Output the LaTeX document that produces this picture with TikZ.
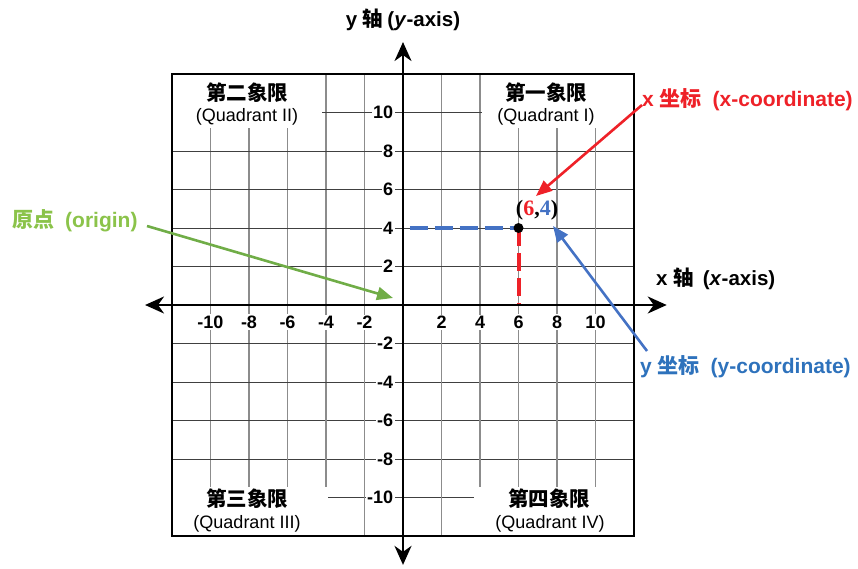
\documentclass[tikz,border=0pt]{standalone}
\usepackage{fontspec}
\setmainfont{Liberation Sans}
\newfontfamily\cjk{Noto Sans CJK SC}
\newfontfamily\timesb{Liberation Serif}
\usetikzlibrary{arrows.meta}
\definecolor{cred}{HTML}{EE2128}
\definecolor{cblue}{HTML}{4472C4}
\definecolor{cbluetxt}{HTML}{2E72BC}
\definecolor{cgreen}{HTML}{70AD47}
\definecolor{cgreentxt}{HTML}{8BC34A}
\tikzset{
  vgrid/.style={draw=black!45, line width=1.1pt},
  hgrid/.style={draw=black!75, line width=0.9pt},
  border/.style={draw=black, line width=1.6pt},
  axisline/.style={draw=black, line width=2.2pt, {Stealth[length=19pt,width=17pt,inset=6pt]}-{Stealth[length=19pt,width=17pt,inset=6pt]}},
  tick/.style={font=\bfseries\fontsize{18}{18}\selectfont, fill=white, inner sep=1.5pt},
  qcn/.style={font=\cjk\bfseries\fontsize{20.5}{22}\selectfont, inner sep=0pt},
  qen/.style={font=\fontsize{18}{20}\selectfont, inner sep=0pt},
  annot/.style={font=\bfseries\fontsize{21}{22}\selectfont, inner sep=0pt, anchor=west},
  callout/.style={line width=2.6pt, -{Triangle[length=16pt,width=13pt]}},
}
\begin{document}
\begin{tikzpicture}[x=1pt,y=-1pt]
\useasboundingbox (0,0) rectangle (858,568);
\begin{scope}[shift={(403,305)},x=19.25pt,y=19.25pt]
  % grid
  \foreach \i in {-10,-8,-6,-4,-2,2,4,6,8,10} {
    \draw[vgrid] (\i,-12) -- (\i,12);
    \draw[hgrid] (-12,\i) -- (12,\i);
  }
  % white areas behind the quadrant labels
  \fill[white] (-11.95,9.2) rectangle (-4.2,11.95);
  \fill[white] (4.1,9.2) rectangle (11.95,11.95);
  \fill[white] (-11.95,-9.45) rectangle (-3.9,-11.95);
  \fill[white] (3.7,-9.45) rectangle (11.95,-11.95);
  \draw[border] (-12,-12) rectangle (12,12);
  % dashed guides
  \coordinate (P) at (6,4);
  \coordinate (Py) at (0.36,4);
  \coordinate (Px) at (6,0);
  \draw[cblue, line width=4pt, dash pattern=on 18pt off 7pt] (Py) -- (P);
  \draw[cred, line width=4pt, dash pattern=on 18pt off 7pt] (P) -- (Px);
  % axes
  \coordinate (xl) at (-13.4,0);
  \coordinate (xr) at (13.7,0);
  \coordinate (yt) at (0,13.66);
  \coordinate (yb) at (0,-13.5);
  \draw[axisline] (xl) -- (xr);
  \draw[axisline] (yb) -- (yt);
  % tick labels
  \foreach \i in {-10,-8,-6,-4,-2,2,4,6,8,10} {
    \node[tick] (tx\i) at (\i,-0.9) {\i};
    \node[tick, anchor=east] (ty\i) at (-0.42,\i) {\i};
  }
  % point
  \node[circle, fill=black, inner sep=0pt, minimum size=10pt] (pt) at (P) {};
\end{scope}
% quadrant labels
\node[qcn] (q1c) at (546,93) {第一象限};
\node[qen] (q1e) at (546,117) {(Quadrant I)};
\node[qcn] (q2c) at (247,93) {第二象限};
\node[qen] (q2e) at (247,117) {(Quadrant II)};
\node[qcn] (q3c) at (247,499) {第三象限};
\node[qen] (q3e) at (247,524) {(Quadrant III)};
\node[qcn] (q4c) at (549,499) {第四象限};
\node[qen] (q4e) at (550,524) {(Quadrant IV)};
% axis titles
\node[annot, font=\bfseries\fontsize{20.5}{22}\selectfont] (xt) at (656,279) {x {\cjk 轴}\hspace{9pt}(\textit{x}-axis)};
\node[annot, anchor=center, font=\bfseries\fontsize{20.5}{22}\selectfont] (ytt) at (403,20) {y {\cjk 轴}\hspace{4pt}(\textit{y}-axis)};
% point label
\node[font=\timesb\bfseries\fontsize{22}{22}\selectfont, inner sep=0pt] (pl) at (537,210) {(\textcolor{cred}{6},\textcolor{cblue}{4})};
% annotations
\node[annot, text=cred] (xc) at (642,100) {x {\cjk 坐标}\hspace{11pt}(x-coordinate)};
\node[annot, text=cbluetxt] (yc) at (640,367) {y {\cjk 坐标}\hspace{11pt}(y-coordinate)};
\node[annot, text=cgreentxt] (og) at (12,221) {{\cjk 原点}\hspace{11pt}(origin)};
\coordinate (xcs) at (642,105);
\coordinate (xct) at (536,196);
\coordinate (ycs) at (647,351);
\coordinate (yct) at (553,226);
\coordinate (ogs) at (147,226);
\coordinate (ogt) at (393,298);
\draw[callout, cred] (xcs) -- (xct);
\draw[callout, cblue] (ycs) -- (yct);
\draw[callout, cgreen] (ogs) -- (ogt);
\end{tikzpicture}
\end{document}
